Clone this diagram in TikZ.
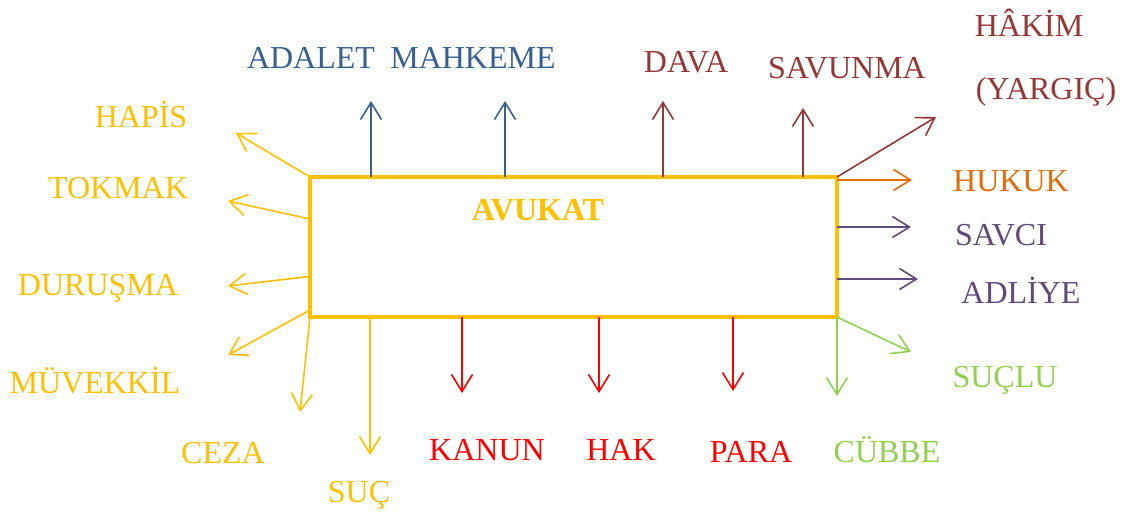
\documentclass[tikz,border=0pt]{standalone}
\usepackage{fontspec}
\setmainfont{Liberation Serif}
\usepackage{tikz}
\usetikzlibrary{arrows.meta,positioning,calc}
\definecolor{mavi}{HTML}{376092}
\definecolor{bordo}{HTML}{953735}
\definecolor{altin}{HTML}{FFC000}
\definecolor{turuncu}{HTML}{E36C09}
\definecolor{mor}{HTML}{604A7B}
\definecolor{yesil}{HTML}{92D050}
\definecolor{kirmizi}{HTML}{FF0000}
\tikzset{%
kutu/.style={rectangle, draw=altin, line width=2.2pt, minimum width=263.5pt, minimum height=70pt, inner sep=0pt, outer sep=0pt},
etiket/.style={anchor=base, inner sep=0pt, font=\fontsize{16}{19}\selectfont},
ok/.style={line width=0.8pt, -{Straight Barb[length=8.5pt,width=10.5pt]}},
altinok/.style={ok, draw=altin},
maviok/.style={ok, draw=mavi},
bordook/.style={ok, draw=bordo},
turuncuok/.style={ok, draw=turuncu},
morok/.style={ok, draw=mor},
yesilok/.style={ok, draw=yesil},
kirmiziok/.style={ok, draw=kirmizi}
}
\begin{document}
\begin{tikzpicture}[x=0.5pt, y=-0.5pt]
		\useasboundingbox (0,0) rectangle (1135,511);
		\node[kutu] (avukat) at (573.5,247) {};
		\node[etiket, text=altin, font=\fontsize{16}{19}\selectfont\bfseries] (avukatyazi) at (538,220) {AVUKAT};
		
		% labels
		\node[etiket, text=mavi] (adalet) at (311,68) {ADALET};
		\node[etiket, text=mavi] (mahkeme) at (473,68) {MAHKEME};
		\node[etiket, text=bordo] (dava) at (686,72) {DAVA};
		\node[etiket, text=bordo] (savunma) at (847,78) {SAVUNMA};
		\node[etiket, text=bordo] (hakim) at (1029,36) {HÂKİM};
		\node[etiket, text=bordo] (yargic) at (1046,99) {(YARGIÇ)};
		\node[etiket, text=turuncu] (hukuk) at (1011,191) {HUKUK};
		\node[etiket, text=mor] (savci) at (1001,245) {SAVCI};
		\node[etiket, text=mor] (adliye) at (1021,303) {ADLİYE};
		\node[etiket, text=yesil] (suclu) at (1005,387) {SUÇLU};
		\node[etiket, text=yesil] (cubbe) at (887,462) {CÜBBE};
		\node[etiket, text=kirmizi] (para) at (751,462) {PARA};
		\node[etiket, text=kirmizi] (hak) at (621,460) {HAK};
		\node[etiket, text=kirmizi] (kanun) at (487,460) {KANUN};
		\node[etiket, text=altin] (suc) at (359,502) {SUÇ};
		\node[etiket, text=altin] (ceza) at (223,463) {CEZA};
		\node[etiket, text=altin] (muvekkil) at (95,393) {MÜVEKKİL};
		\node[etiket, text=altin] (durusma) at (98,295) {DURUŞMA};
		\node[etiket, text=altin] (tokmak) at (118,198) {TOKMAK};
		\node[etiket, text=altin] (hapis) at (141,127) {HAPİS};
		
		% arrow ends
		\coordinate (adaletuc) at (371,101);
		\coordinate (mahkemeuc) at (505,101);
		\coordinate (davauc) at (663,101);
		\coordinate (savunmauc) at (803,108);
		\coordinate (hakimuc) at (936,117);
		\coordinate (hukukuc) at (912,180);
		\coordinate (savciuc) at (911,227);
		\coordinate (adliyeuc) at (918,279);
		\coordinate (sucluuc) at (911,352);
		\coordinate (cubbeuc) at (837,396);
		\coordinate (parauc) at (733,391);
		\coordinate (hakuc) at (599,393);
		\coordinate (kanunuc) at (462,393);
		\coordinate (sucuc) at (370,455);
		\coordinate (cezauc) at (300,412);
		\coordinate (muvekkiluc) at (228,355);
		\coordinate (durusmauc) at (228,286);
		\coordinate (tokmakuc) at (228,201);
		\coordinate (hapisuc) at (236,133);
		
		\draw[maviok] (adaletuc |- avukat.north) -- (adaletuc);
		\draw[maviok] (mahkemeuc |- avukat.north) -- (mahkemeuc);
		\draw[bordook] (davauc |- avukat.north) -- (davauc);
		\draw[bordook] (savunmauc |- avukat.north) -- (savunmauc);
		\draw[bordook] (avukat.north east) -- (hakimuc);
		
		\draw[turuncuok] (avukat.east |- hukukuc) -- (hukukuc);
		\draw[morok] (avukat.east |- savciuc) -- (savciuc);
		\draw[morok] (avukat.east |- adliyeuc) -- (adliyeuc);
		\draw[yesilok] (avukat.south east) -- (sucluuc);
		\draw[yesilok] (avukat.south east) -- (cubbeuc);
		
		\draw[kirmiziok] (parauc |- avukat.south) -- (parauc);
		\draw[kirmiziok] (hakuc |- avukat.south) -- (hakuc);
		\draw[kirmiziok] (kanunuc |- avukat.south) -- (kanunuc);
		\draw[altinok] (sucuc |- avukat.south) -- (sucuc);
		
		\draw[altinok] (avukat.south west) -- (cezauc);
		\draw[altinok] ($(avukat.north west)!.95!(avukat.south west)$) -- (muvekkiluc);
		\draw[altinok] ($(avukat.north west)!.71!(avukat.south west)$) -- (durusmauc);
		\draw[altinok] ($(avukat.north west)!.3!(avukat.south west)$) -- (tokmakuc);
		\draw[altinok] (avukat.north west) -- (hapisuc);
	\end{tikzpicture}
\end{document}
